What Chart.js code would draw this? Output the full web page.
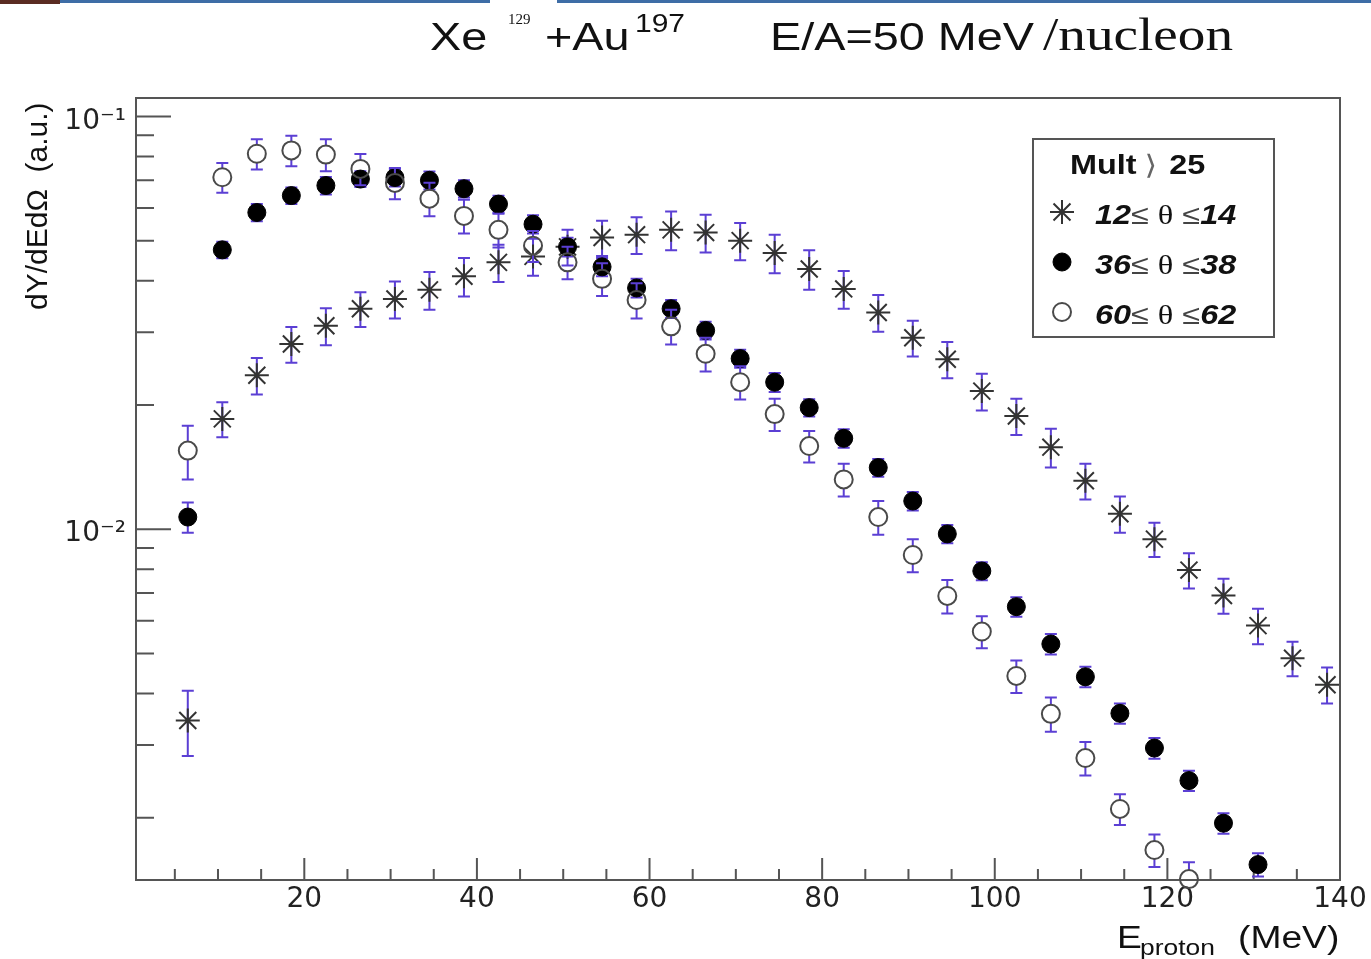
<!DOCTYPE html>
<html>
<head>
<meta charset="utf-8">
<title>Xe129 + Au197 proton spectra</title>
<script src="https://cdn.jsdelivr.net/npm/chart.js@4.4.1/dist/chart.umd.min.js"></script>
<style>
html, body { margin: 0; padding: 0; background: #fff; }
#wrap { width: 1371px; height: 959px; position: relative; }
</style>
</head>
<body>
<div id="wrap"><canvas id="spectra-canvas"></canvas></div>
<script>
"use strict";

// proton energy bin centres (MeV)
const energies = [6.5, 10.5, 14.5, 18.5, 22.5, 26.5, 30.5, 34.5, 38.5, 42.5, 46.5, 50.5,
    54.5, 58.5, 62.5, 66.5, 70.5, 74.5, 78.5, 82.5, 86.5, 90.5, 94.5, 98.5, 102.5, 106.5,
    110.5, 114.5, 118.5, 122.5, 126.5, 130.5, 134.5, 138.5];

// 12 <= theta <= 14 (stars)
const fwdValues = [0.00344, 0.0185, 0.0236, 0.0281, 0.0311, 0.0342, 0.0361, 0.0380, 0.0410,
    0.0443, 0.0458, 0.0483, 0.0509, 0.0517, 0.0531, 0.0523, 0.0500, 0.0467, 0.0427, 0.0382,
    0.0335, 0.0291, 0.0258, 0.0216, 0.0188, 0.0158, 0.0131, 0.0109, 0.00946, 0.00796,
    0.00691, 0.00584, 0.00487, 0.00420];
const fwdErrors = [0.00062, 0.0018, 0.0024, 0.0028, 0.0032, 0.0033, 0.0037, 0.0040, 0.0044,
    0.0046, 0.0047, 0.0048, 0.0050, 0.0053, 0.0057, 0.0055, 0.0052, 0.0050, 0.0047, 0.0040,
    0.0034, 0.0029, 0.0026, 0.0022, 0.0019, 0.0017, 0.0013, 0.0011, 0.0009, 0.00078,
    0.00067, 0.00058, 0.00047, 0.00042];

// 36 <= theta <= 38 (filled circles)
const midValues = [0.0107, 0.0475, 0.0585, 0.0643, 0.0680, 0.0705, 0.0711, 0.0700, 0.0668,
    0.0613, 0.0548, 0.0483, 0.0432, 0.0384, 0.0342, 0.0303, 0.0259, 0.0227, 0.0197, 0.0166,
    0.0141, 0.0117, 0.00974, 0.00792, 0.00649, 0.00527, 0.00439, 0.00358, 0.00295, 0.00246,
    0.00194, 0.00154];
const midErrors = [0.0009, 0.0022, 0.0028, 0.0030, 0.0033, 0.0031, 0.0035, 0.0035, 0.0032,
    0.0029, 0.0028, 0.0025, 0.0022, 0.0020, 0.0017, 0.0015, 0.0013, 0.0012, 0.00095, 0.00085,
    0.0007, 0.0006, 0.0005, 0.0004, 0.00035, 0.0003, 0.00025, 0.0002, 0.00017, 0.00014,
    0.00011, 0.0001];

// 60 <= theta <= 62 (open circles)
const bwdValues = [0.0155, 0.0712, 0.0812, 0.0827, 0.0808, 0.0746, 0.0690, 0.0632, 0.0574,
    0.0531, 0.0486, 0.0443, 0.0404, 0.0359, 0.0310, 0.0266, 0.0227, 0.0190, 0.0159, 0.0132,
    0.0107, 0.00866, 0.00689, 0.00565, 0.00441, 0.00357, 0.00279, 0.00210, 0.00167, 0.00142];
const bwdErrors = [0.0023, 0.0059, 0.0068, 0.0070, 0.0072, 0.0065, 0.0060, 0.0059, 0.0054,
    0.0050, 0.0042, 0.0040, 0.0037, 0.0035, 0.0030, 0.0025, 0.0021, 0.0017, 0.0014, 0.0012,
    0.0010, 0.0008, 0.00064, 0.0005, 0.0004, 0.00034, 0.00026, 0.00018, 0.00015, 0.00014];

const seriesLabels = ["12\u2264 \u03b8 \u226414", "36\u2264 \u03b8 \u226438", "60\u2264 \u03b8 \u226462"];
const legendTitle = ["Mult", "\u27e9", "25"];

const xMajorTicks = [20, 40, 60, 80, 100, 120, 140];
const yMajorTicks = [0.01, 0.1];
const yMajorLabels = ["10\u207b\u00b2", "10\u207b\u00b9"];

const SANS = "'Liberation Sans', Arial, sans-serif";
const SERIF = "'Liberation Serif', 'Times New Roman', serif";
const TEXT_SX = 1.2;   // the reference picture is stretched sideways
const ERR_COLOR = "#5b3fd4";

function toPoints(vals) {
    return vals.map((v, i) => ({ x: energies[i], y: v }));
}

function drawText(ctx, text, x, y, font, color, sx) {
    ctx.save();
    ctx.translate(x, y);
    ctx.scale(sx || TEXT_SX, 1);
    ctx.font = font;
    ctx.fillStyle = color || "#111";
    ctx.textBaseline = "alphabetic";
    ctx.fillText(text, 0, 0);
    let w = ctx.measureText(text).width * (sx || TEXT_SX);
    ctx.restore();
    return w;
}

// slide header remains + page title
const headerPlugin = {
    id: "header",
    beforeDraw(chart) {
        const ctx = chart.ctx;
        ctx.save();
        ctx.fillStyle = "#fff";
        ctx.fillRect(0, 0, chart.width, chart.height);
        ctx.fillStyle = "#5a2c22";
        ctx.fillRect(0, 0, 60, 4);
        ctx.fillStyle = "#3e6da6";
        ctx.fillRect(60, 0, 430, 3);
        ctx.fillRect(557, 0, chart.width - 557, 3);
        ctx.restore();
        drawText(ctx, "Xe", 430, 50, "39px " + SANS);
        drawText(ctx, "129", 508, 24, "15px " + SERIF, "#111", 1);
        drawText(ctx, "+Au", 545, 50, "39px " + SANS);
        drawText(ctx, "197", 635, 32, "25px " + SANS);
        drawText(ctx, "E/A=50 MeV", 770, 50, "39px " + SANS);
        drawText(ctx, "/nucleon", 1043, 50, "46px " + SERIF);
    }
};

// ROOT style frame with inward ticks
const framePlugin = {
    id: "frame",
    beforeDatasetsDraw(chart) {
        const { ctx, chartArea: a } = chart;
        const xs = chart.scales.x, ys = chart.scales.y;
        ctx.save();
        ctx.strokeStyle = "#555";
        ctx.lineWidth = 2;
        ctx.strokeRect(a.left, a.top, a.right - a.left, a.bottom - a.top);
        ctx.beginPath();
        xs.ticks.forEach(t => {
            let px = xs.getPixelForValue(t.value);
            let len = t.major ? 22 : 11;
            ctx.moveTo(px, a.bottom);
            ctx.lineTo(px, a.bottom - len);
        });
        ys.ticks.forEach(t => {
            let py = ys.getPixelForValue(t.value);
            let len = t.major ? 35 : 18;
            ctx.moveTo(a.left, py);
            ctx.lineTo(a.left + len, py);
        });
        ctx.stroke();
        ctx.restore();

        // axis titles
        drawText(ctx, "E", 1117, 948, "31px " + SANS);
        drawText(ctx, "proton", 1140, 955, "22px " + SANS);
        drawText(ctx, "(MeV)", 1238, 948, "31px " + SANS);
        ctx.save();
        ctx.translate(47, 310);
        ctx.rotate(-Math.PI / 2);
        ctx.font = "30px " + SANS;
        ctx.fillStyle = "#111";
        ctx.fillText("dY/dEd\u03a9  (a.u.)", 0, 0);
        ctx.restore();
    }
};

const errorBarPlugin = {
    id: "errorBars",
    beforeDatasetDraw(chart, args) {
        const ds = chart.data.datasets[args.index];
        if (!ds.errors) {
            return;
        }
        const ctx = chart.ctx, ys = chart.scales.y, a = chart.chartArea;
        const gap = ds.errGap || 0;
        ctx.save();
        ctx.beginPath();
        ctx.rect(a.left, a.top, a.right - a.left, a.bottom - a.top);
        ctx.clip();
        ctx.strokeStyle = ERR_COLOR;
        ctx.lineWidth = 2;
        args.meta.data.forEach((pt, i) => {
            let v = ds.data[i].y, e = ds.errors[i];
            let yTop = ys.getPixelForValue(v + e);
            let yBot = ys.getPixelForValue(Math.max(v - e, 1e-6));
            ctx.beginPath();
            ctx.moveTo(pt.x, yTop);
            ctx.lineTo(pt.x, Math.max(yTop, pt.y - gap));
            ctx.moveTo(pt.x, Math.min(yBot, pt.y + gap));
            ctx.lineTo(pt.x, yBot);
            ctx.moveTo(pt.x - 6, yTop);
            ctx.lineTo(pt.x + 6, yTop);
            ctx.moveTo(pt.x - 6, yBot);
            ctx.lineTo(pt.x + 6, yBot);
            ctx.stroke();
        });
        ctx.restore();
    }
};

function drawMarker(ctx, ds, x, y) {
    ctx.save();
    ctx.fillStyle = ds.backgroundColor;
    ctx.strokeStyle = ds.borderColor;
    ctx.lineWidth = ds.borderWidth;
    if (Chart.helpers && Chart.helpers.drawPoint) {
        Chart.helpers.drawPoint(ctx, { pointStyle: ds.pointStyle, radius: ds.pointRadius, borderWidth: ds.borderWidth, rotation: 0 }, x, y);
    } else {
        ctx.beginPath();
        ctx.arc(x, y, ds.pointRadius, 0, Math.PI * 2);
        ctx.fill();
        ctx.stroke();
    }
    ctx.restore();
}

const legendPlugin = {
    id: "rootLegend",
    afterDatasetsDraw(chart) {
        const ctx = chart.ctx, a = chart.chartArea;
        const bx = a.right - 307, by = a.top + 41, bw = 241, bh = 198;
        ctx.save();
        ctx.fillStyle = "#fff";
        ctx.fillRect(bx, by, bw, bh);
        ctx.strokeStyle = "#555";
        ctx.lineWidth = 2;
        ctx.strokeRect(bx, by, bw, bh);
        ctx.restore();

        let x = bx + 37;
        x += drawText(ctx, legendTitle[0], x, by + 35, "bold 27px " + SANS) + 8;
        x += drawText(ctx, legendTitle[1], x, by + 35, "27px 'DejaVu Sans', sans-serif", "#666") + 12;
        drawText(ctx, legendTitle[2], x, by + 35, "bold 27px " + SANS);

        chart.data.datasets.forEach((ds, i) => {
            let cy = by + 73 + i * 50;
            drawMarker(ctx, ds, bx + 29, cy);
            let parts = seriesLabels[i].match(/\d+|\u03b8|[^\d\u03b8]+/g);
            let tx = bx + 62;
            parts.forEach(p => {
                let font = "27px " + SANS;
                let color = "#111";
                if (/^\d+$/.test(p)) {
                    font = "italic bold 27px " + SANS;
                } else if (p === "\u03b8") {
                    font = "27px " + SERIF;
                } else {
                    color = "#444";
                }
                tx += drawText(ctx, p, tx, cy + 12, font, color);
            });
        });
    }
};

function createChart() {
    let canvas = document.getElementById("spectra-canvas");
    let context = canvas.getContext("2d");
    if (context === null) {
        console.error("failed to create canvas context");
        return;
    }
    new Chart(context, {
        type: "scatter",
        data: {
            datasets: [
                {
                    label: seriesLabels[0],
                    data: toPoints(fwdValues),
                    errors: fwdErrors,
                    errGap: 0,
                    pointStyle: "star",
                    pointRadius: 12,
                    borderWidth: 2,
                    borderColor: "#333",
                    backgroundColor: "#333",
                    order: 3,
                    clip: false,
                },
                {
                    label: seriesLabels[1],
                    data: toPoints(midValues),
                    errors: midErrors,
                    errGap: 8,
                    pointStyle: "circle",
                    pointRadius: 9,
                    borderWidth: 1,
                    borderColor: "#000",
                    backgroundColor: "#000",
                    order: 2,
                    clip: false,
                },
                {
                    label: seriesLabels[2],
                    data: toPoints(bwdValues),
                    errors: bwdErrors,
                    errGap: 9,
                    pointStyle: "circle",
                    pointRadius: 9,
                    borderWidth: 2,
                    borderColor: "#4a4a4a",
                    backgroundColor: "rgba(0,0,0,0)",
                    order: 1,
                    clip: false,
                },
            ],
        },
        options: {
            animation: false,
            responsive: true,
            maintainAspectRatio: false,
            layout: { padding: { top: 98, right: 31, left: 0, bottom: 0 } },
            plugins: {
                legend: { display: false },
                tooltip: { enabled: false },
            },
            scales: {
                x: {
                    type: "linear",
                    min: 0.5,
                    max: 140,
                    grid: { display: false, drawTicks: false },
                    border: { display: false },
                    afterBuildTicks: scale => {
                        let ticks = [];
                        for (let v = 5; v <= 140; v += 5) {
                            ticks.push({ value: v, major: xMajorTicks.includes(v) });
                        }
                        scale.ticks = ticks;
                    },
                    afterFit: scale => { scale.height = 79; },
                    ticks: {
                        autoSkip: false,
                        maxRotation: 0,
                        padding: 3,
                        color: "#222",
                        font: { family: "DejaVu Sans", size: 28 },
                        callback: v => xMajorTicks.includes(v) ? String(v) : "",
                    },
                },
                y: {
                    type: "logarithmic",
                    min: 0.001413,
                    max: 0.1108,
                    grid: { display: false, drawTicks: false },
                    border: { display: false },
                    afterBuildTicks: scale => {
                        let ticks = [];
                        [0.001, 0.01].forEach(dec => {
                            for (let m = 2; m <= 10; m++) {
                                let v = +(m * dec).toPrecision(3);
                                ticks.push({ value: v, major: yMajorTicks.includes(v) });
                            }
                        });
                        scale.ticks = ticks;
                    },
                    afterFit: scale => { scale.width = 136; },
                    ticks: {
                        autoSkip: false,
                        padding: 10,
                        labelOffset: 5,
                        color: "#222",
                        font: { family: "DejaVu Sans", size: 28 },
                        callback: v => {
                            let i = yMajorTicks.findIndex(m => Math.abs(m - v) < 1e-9);
                            return i >= 0 ? yMajorLabels[i] : "";
                        },
                    },
                },
            },
        },
        plugins: [headerPlugin, framePlugin, errorBarPlugin, legendPlugin],
    });
}

document.addEventListener("DOMContentLoaded", createChart);
</script>
</body>
</html>
